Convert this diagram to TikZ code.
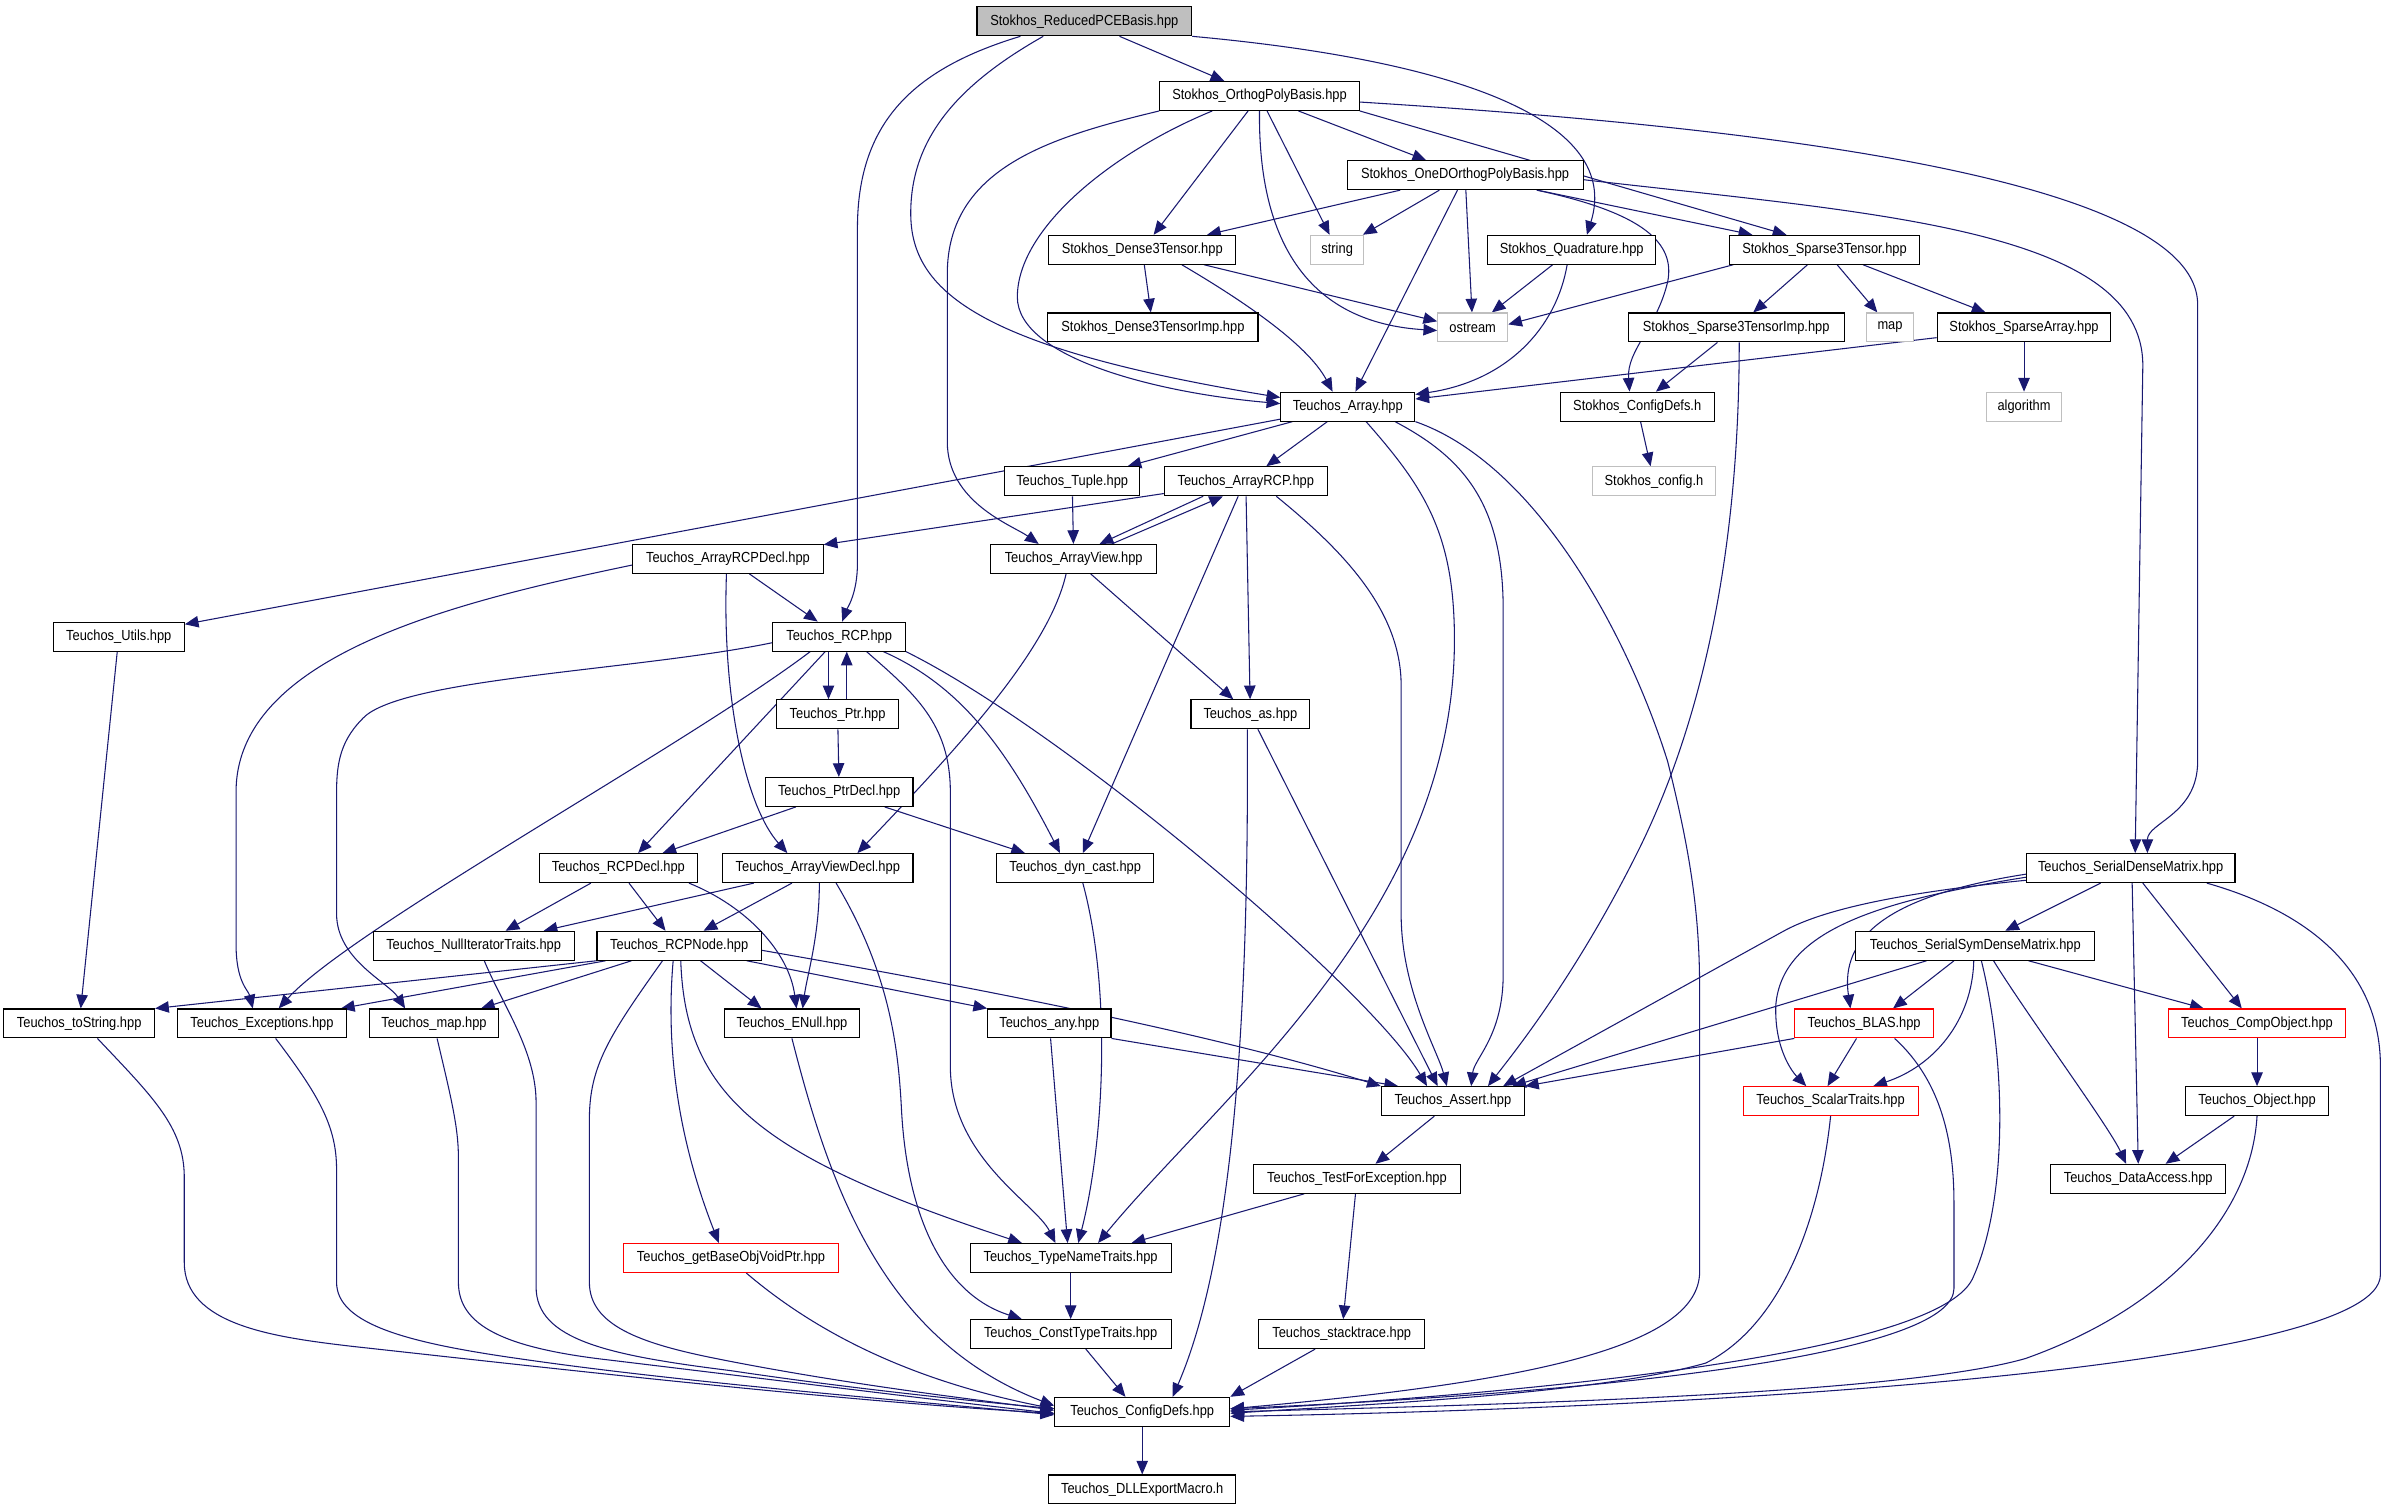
\documentclass[tikz,border=0pt]{standalone}
\usepackage{fontspec}
\setmainfont{Liberation Sans}[FakeStretch=0.88]
\usetikzlibrary{arrows.meta,backgrounds}
\definecolor{depcol}{RGB}{25,25,112}
\definecolor{grayb}{RGB}{191,191,191}
\tikzset{
  nb/.style={draw=black, line width=0.7pt, fill=white, minimum height=19pt, inner sep=0pt, font=\fontsize{9.6}{12}\selectfont},
  gb/.style={nb, draw=grayb},
  rb/.style={nb, draw=red},
  dep/.style={draw=depcol, line width=0.7pt, -{Triangle[length=9pt,width=7.5pt]}},
}
\begin{document}
\begin{tikzpicture}[x=1pt,y=-1pt]
\useasboundingbox (0,0) rectangle (1568,990.8);
% nodes
\node[nb,fill=grayb,minimum width=141pt] (RPCE) at (712,14) {Stokhos\_ReducedPCEBasis.hpp};
\node[nb,minimum width=131pt] (OPB) at (827,63) {Stokhos\_OrthogPolyBasis.hpp};
\node[nb,minimum width=155pt] (OneD) at (962,115) {Stokhos\_OneDOrthogPolyBasis.hpp};
\node[nb,minimum width=123pt] (D3T) at (750,164) {Stokhos\_Dense3Tensor.hpp};
\node[gb,minimum width=35pt] (str) at (878,164) {string};
\node[nb,minimum width=110pt] (Quad) at (1032,164) {Stokhos\_Quadrature.hpp};
\node[nb,minimum width=125pt] (S3T) at (1198,164) {Stokhos\_Sparse3Tensor.hpp};
\node[nb,minimum width=138pt] (D3TImp) at (757,215) {Stokhos\_Dense3TensorImp.hpp};
\node[gb,minimum width=46pt] (ostr) at (967,215) {ostream};
\node[nb,minimum width=142pt] (S3TImp) at (1140,215) {Stokhos\_Sparse3TensorImp.hpp};
\node[gb,minimum width=31pt] (smap) at (1241,215) {map};
\node[nb,minimum width=114pt] (SpA) at (1329,215) {Stokhos\_SparseArray.hpp};
\node[nb,minimum width=88pt] (Arr) at (885,267) {Teuchos\_Array.hpp};
\node[nb,minimum width=101pt] (SCDh) at (1075,267) {Stokhos\_ConfigDefs.h};
\node[gb,minimum width=49pt] (algo) at (1329,267) {algorithm};
\node[nb,minimum width=89pt] (Tup) at (704,316) {Teuchos\_Tuple.hpp};
\node[nb,minimum width=107pt] (ARCP) at (818,316) {Teuchos\_ArrayRCP.hpp};
\node[gb,minimum width=81pt] (scfg) at (1086,316) {Stokhos\_config.h};
\node[nb,minimum width=125pt] (ARCPD) at (478,367) {Teuchos\_ArrayRCPDecl.hpp};
\node[nb,minimum width=109pt] (AV) at (705,367) {Teuchos\_ArrayView.hpp};
\node[nb,minimum width=86pt] (Utl) at (78,418) {Teuchos\_Utils.hpp};
\node[nb,minimum width=87pt] (RCP) at (551,418) {Teuchos\_RCP.hpp};
\node[nb,minimum width=80pt] (Ptr) at (550,469) {Teuchos\_Ptr.hpp};
\node[nb,minimum width=78pt] (as) at (821,469) {Teuchos\_as.hpp};
\node[nb,minimum width=97pt] (PtrD) at (551,520) {Teuchos\_PtrDecl.hpp};
\node[nb,minimum width=104pt] (RCPD) at (406,570) {Teuchos\_RCPDecl.hpp};
\node[nb,minimum width=125pt] (AVD) at (537,570) {Teuchos\_ArrayViewDecl.hpp};
\node[nb,minimum width=103pt] (dync) at (706,570) {Teuchos\_dyn\_cast.hpp};
\node[nb,minimum width=137pt] (SDM) at (1399,570) {Teuchos\_SerialDenseMatrix.hpp};
\node[nb,minimum width=132pt] (NIT) at (311,621) {Teuchos\_NullIteratorTraits.hpp};
\node[nb,minimum width=108pt] (RCPN) at (446,621) {Teuchos\_RCPNode.hpp};
\node[nb,minimum width=157pt] (SSDM) at (1297,621) {Teuchos\_SerialSymDenseMatrix.hpp};
\node[nb,minimum width=99pt] (toS) at (52,672) {Teuchos\_toString.hpp};
\node[nb,minimum width=111pt] (Exc) at (172,672) {Teuchos\_Exceptions.hpp};
\node[nb,minimum width=85pt] (tmap) at (285,672) {Teuchos\_map.hpp};
\node[nb,minimum width=89pt] (ENull) at (520,672) {Teuchos\_ENull.hpp};
\node[nb,minimum width=81pt] (any) at (689,672) {Teuchos\_any.hpp};
\node[rb,minimum width=91pt] (BLAS) at (1224,672) {Teuchos\_BLAS.hpp};
\node[rb,minimum width=116pt] (CObj) at (1482,672) {Teuchos\_CompObject.hpp};
\node[nb,minimum width=94pt] (Asrt) at (954,723) {Teuchos\_Assert.hpp};
\node[rb,minimum width=115pt] (ScT) at (1202,723) {Teuchos\_ScalarTraits.hpp};
\node[nb,minimum width=94pt] (Obj) at (1482,723) {Teuchos\_Object.hpp};
\node[nb,minimum width=136pt] (TFE) at (891,774) {Teuchos\_TestForException.hpp};
\node[nb,minimum width=115pt] (DAcc) at (1404,774) {Teuchos\_DataAccess.hpp};
\node[rb,minimum width=141pt] (GBO) at (480,826) {Teuchos\_getBaseObjVoidPtr.hpp};
\node[nb,minimum width=132pt] (TNT) at (703,826) {Teuchos\_TypeNameTraits.hpp};
\node[nb,minimum width=132pt] (CTT) at (703,876) {Teuchos\_ConstTypeTraits.hpp};
\node[nb,minimum width=109pt] (stk) at (881,876) {Teuchos\_stacktrace.hpp};
\node[nb,minimum width=115pt] (CDh) at (750,927) {Teuchos\_ConfigDefs.hpp};
\node[nb,minimum width=123pt] (DLL) at (750,978) {Teuchos\_DLLExportMacro.h};
% edges
\begin{scope}[on background layer]
\draw[dep] (RPCE) -- (OPB);
\draw[dep] (RPCE.south east) .. controls (960,40) and (1065,80) .. ([xshift=10pt]Quad.north);
\draw[dep] ([xshift=-27pt]RPCE.south) .. controls (630,55) and (598,90) .. (598,140) .. controls (598,190) and (640,228) .. ([yshift=6pt]Arr.west);
\draw[dep] ([xshift=-42pt]RPCE.south) .. controls (600,45) and (563,80) .. (563,150) -- (563,370) .. controls (563,390) and (556,400) .. ([xshift=2pt]RCP.north);
% OPB
\draw[dep] (OPB) -- (OneD);
\draw[dep] (OPB) -- (D3T);
\draw[dep] (OPB) -- (str);
\draw[dep] (OPB.south) .. controls (826,160) and (860,212) .. ([yshift=-2pt]ostr.west);
\draw[dep] ([xshift=-31pt]OPB.south) .. controls (730,100) and (668,150) .. (668,195) .. controls (668,235) and (760,258) .. ([yshift=2pt]Arr.west);
\draw[dep] (OPB.south west) .. controls (690,90) and (622,110) .. (622,180) -- (622,290) .. controls (622,330) and (665,345) .. ([xshift=-23pt]AV.north);
\draw[dep] (OPB.south east) -- ([xshift=-25pt]S3T.north);
\draw[dep] ([yshift=-4pt]OPB.east) .. controls (1100,80) and (1443,110) .. (1443,200) -- (1443,500) .. controls (1443,535) and (1410,540) .. ([xshift=11pt]SDM.north);
% OneD
\draw[dep] (OneD) -- (D3T);
\draw[dep] (OneD) -- (str);
\draw[dep] (OneD) -- (Arr);
\draw[dep] (OneD) -- (ostr);
\draw[dep] (OneD) -- (S3T);
\draw[dep] ([xshift=47pt]OneD.south) .. controls (1080,140) and (1100,160) .. (1095,185) .. controls (1088,215) and (1068,230) .. ([xshift=-5pt]SCDh.north);
\draw[dep] ([yshift=-3pt]OneD.east) .. controls (1230,140) and (1407,150) .. (1407,240) -- ([xshift=3pt]SDM.north);
% D3T, Quad, S3T
\draw[dep] (D3T) -- (D3TImp);
\draw[dep] (D3T) -- ([yshift=4pt]ostr.west);
\draw[dep] ([xshift=26pt]D3T.south) .. controls (812,195) and (858,225) .. ([xshift=-10pt]Arr.north);
\draw[dep] (Quad) -- (ostr);
\draw[dep] ([xshift=-3pt]Quad.south) .. controls (1022,215) and (990,250) .. ([yshift=8pt]Arr.east);
\draw[dep] ([xshift=-60pt]S3T.south) -- ([yshift=2pt]ostr.east);
\draw[dep] (S3T) -- (S3TImp);
\draw[dep] (S3T) -- (smap);
\draw[dep] (S3T) -- (SpA);
\draw[dep] (S3TImp) -- (SCDh);
\draw[dep] ([xshift=2pt]S3TImp.south) .. controls (1142,370) and (1115,480) .. (1075,560) .. controls (1035,640) and (995,690) .. ([xshift=23pt]Asrt.north);
\draw[dep] (SpA) -- ([yshift=5pt]Arr.east);
\draw[dep] (SpA) -- (algo);
\draw[dep] (SCDh) -- (scfg);
% Array
\draw[dep] (Arr) -- (Utl);
\draw[dep] (Arr) -- (Tup);
\draw[dep] (Arr) -- (ARCP);
\draw[dep] ([xshift=12pt]Arr.south) .. controls (935,320) and (955,350) .. (955,420) .. controls (955,600) and (800,720) .. ([xshift=18pt]TNT.north);
\draw[dep] ([xshift=31pt]Arr.south) .. controls (960,300) and (987,330) .. (987,400) -- (987,640) .. controls (987,680) and (968,695) .. ([xshift=12pt]Asrt.north);
\draw[dep] (Arr.south east) .. controls (1010,305) and (1070,420) .. (1095,500) .. controls (1110,560) and (1116,600) .. (1116,650) -- (1116,835) .. controls (1116,885) and (1000,908) .. ([yshift=2pt]CDh.east);
% Tuple, ArrayRCP, ArrayView
\draw[dep] (Tup) -- (AV);
\draw[dep] (ARCP) -- (ARCPD);
\draw[dep] ([xshift=-28pt]ARCP.south) -- ([xshift=17pt]AV.north);
\draw[dep] ([xshift=25pt]AV.north) -- ([xshift=-15pt]ARCP.south);
\draw[dep] (ARCP) -- (as);
\draw[dep] ([xshift=-5pt]ARCP.south) -- ([xshift=5pt]dync.north);
\draw[dep] ([xshift=20pt]ARCP.south) .. controls (880,360) and (920,400) .. (920,450) -- (920,600) .. controls (920,650) and (944,690) .. ([xshift=-4pt]Asrt.north);
\draw[dep] (AV) -- (as);
\draw[dep] ([xshift=-5pt]AV.south) .. controls (688,430) and (620,500) .. ([xshift=26pt]AVD.north);
% ArrayRCPDecl
\draw[dep] (ARCPD) -- (RCP);
\draw[dep] ([yshift=-4pt]ARCPD.west) .. controls (300,395) and (155,430) .. (155,520) -- (155,620) .. controls (155,645) and (163,650) .. ([xshift=-6pt]Exc.north);
\draw[dep] ([xshift=-1pt]ARCPD.south) .. controls (474,460) and (490,530) .. ([xshift=-20pt]AVD.north);
\draw[dep] (Utl) -- (toS);
% RCP
\draw[dep] ([xshift=-7pt]RCP.south) -- ([xshift=-6pt]Ptr.north);
\draw[dep] ([xshift=6pt]Ptr.north) -- ([xshift=5pt]RCP.south);
\draw[dep] (RCP) -- ([xshift=13pt]RCPD.north);
\draw[dep] ([xshift=-19pt]RCP.south) .. controls (450,490) and (230,610) .. ([xshift=11pt]Exc.north);
\draw[dep] ([yshift=-4pt]RCP.west) .. controls (420,440) and (270,445) .. (240,470) .. controls (224,485) and (221,500) .. (221,520) -- (221,600) .. controls (221,630) and (255,645) .. ([xshift=-19pt]tmap.north);
\draw[dep] ([xshift=29pt]RCP.south) .. controls (630,450) and (660,490) .. ([xshift=-10pt]dync.north);
\draw[dep] ([xshift=18pt]RCP.south) .. controls (600,455) and (624,475) .. (624,520) -- (624,700) .. controls (624,760) and (680,790) .. ([xshift=-10pt]TNT.north);
\draw[dep] (RCP.south east) .. controls (700,480) and (900,650) .. ([xshift=-17pt]Asrt.north);
\draw[dep] (Ptr) -- (PtrD);
\draw[dep] (PtrD) -- ([xshift=29pt]RCPD.north);
\draw[dep] (PtrD) -- ([xshift=-33pt]dync.north);
\draw[dep] (as) -- ([xshift=-10pt]Asrt.north);
\draw[dep] ([xshift=-2pt]as.south) .. controls (820,650) and (812,820) .. ([xshift=20pt]CDh.north);
% RCPDecl, ArrayViewDecl
\draw[dep] ([xshift=-18pt]RCPD.south) -- ([xshift=21pt]NIT.north);
\draw[dep] ([xshift=7pt]RCPD.south) -- ([xshift=-9pt]RCPN.north);
\draw[dep] ([xshift=-6pt]RCPD.south east) .. controls (490,595) and (518,625) .. ([xshift=3pt]ENull.north);
\draw[dep] ([xshift=-42pt]AVD.south) -- ([xshift=46pt]NIT.north);
\draw[dep] ([xshift=-17pt]AVD.south) -- ([xshift=16pt]RCPN.north);
\draw[dep] ([xshift=1pt]AVD.south) .. controls (538,615) and (530,640) .. ([xshift=7pt]ENull.north);
\draw[dep] ([xshift=12pt]AVD.south) .. controls (585,640) and (590,690) .. (592,730) .. controls (596,800) and (620,850) .. ([xshift=-32pt]CTT.north);
\draw[dep] ([xshift=5pt]dync.south) .. controls (730,650) and (725,750) .. ([xshift=5pt]TNT.north);
\draw[dep] ([xshift=7pt]NIT.south) .. controls (330,660) and (352,690) .. (352,724) -- (352,845) .. controls (352,880) and (400,890) .. (480,900) .. controls (560,912) and (640,920) .. ([yshift=2pt]CDh.west);
% RCPNode
\draw[dep] (RCPN.south west) -- (toS.north east);
\draw[dep] ([xshift=6pt]RCPN.south west) -- ([xshift=-4pt]Exc.north east);
\draw[dep] ([xshift=23pt]RCPN.south west) -- ([xshift=-12pt]tmap.north east);
\draw[dep] ([xshift=14pt]RCPN.south) -- ([xshift=-20pt]ENull.north);
\draw[dep] ([xshift=-10pt]RCPN.south east) -- (any.north west);
\draw[dep] ([yshift=-3pt]RCPN.east) .. controls (650,650) and (800,680) .. (Asrt.north west);
\draw[dep] ([xshift=-4pt]RCPN.south) .. controls (436,700) and (450,760) .. ([xshift=-8pt]GBO.north);
\draw[dep] ([xshift=1pt]RCPN.south) .. controls (450,720) and (500,760) .. ([xshift=-32pt]TNT.north);
\draw[dep] ([xshift=-11pt]RCPN.south) .. controls (400,680) and (387,700) .. (387,735) -- (387,842) .. controls (387,870) and (420,882) .. (470,892) .. controls (560,910) and (650,920) .. ([yshift=1pt]CDh.west);
% left column to ConfigDefs
\draw[dep] ([xshift=12pt]toS.south) .. controls (100,720) and (121,740) .. (121,773) -- (121,829) .. controls (121,870) and (180,878) .. (231,884) .. controls (350,897) and (550,920) .. ([yshift=-1pt]CDh.west);
\draw[dep] ([xshift=9pt]Exc.south) .. controls (210,720) and (221,740) .. (221,768) -- (221,842) .. controls (221,870) and (270,882) .. (340,892) .. controls (450,908) and (600,920) .. ([yshift=-2pt]CDh.west);
\draw[dep] ([xshift=2pt]tmap.south) .. controls (296,720) and (301,740) .. (301,760) -- (301,842) .. controls (301,870) and (330,885) .. (400,893) .. controls (500,905) and (620,920) .. ([yshift=-1pt]CDh.west);
\draw[dep] (ENull.south) .. controls (545,780) and (580,880) .. ([yshift=4pt]CDh.west);
\draw[dep] (any) -- ([xshift=-2pt]TNT.north);
\draw[dep] (any.south east) -- ([xshift=-36pt]Asrt.north);
\draw[dep] ([xshift=10pt]GBO.south) .. controls (530,870) and (590,905) .. ([yshift=2pt]CDh.west);
\draw[dep] (TNT) -- (CTT);
\draw[dep] ([xshift=10pt]CTT.south) -- ([xshift=-11pt]CDh.north);
\draw[dep] (Asrt) -- (TFE);
\draw[dep] (TFE) -- ([xshift=40pt]TNT.north);
\draw[dep] (TFE) -- (stk);
\draw[dep] (stk) -- (CDh.north east);
\draw[dep] (CDh) -- (DLL);
% SerialDenseMatrix
\draw[dep] (SDM) -- (SSDM);
\draw[dep] ([yshift=-4pt]SDM.west) .. controls (1240,588) and (1208,615) .. ([xshift=-9pt]BLAS.north);
\draw[dep] ([yshift=-6pt]SDM.west) .. controls (1230,592) and (1170,612) .. (1166,660) .. controls (1165,690) and (1178,705) .. ([xshift=-16pt]ScT.north);
\draw[dep] ([yshift=-8pt]SDM.west) .. controls (1260,585) and (1200,595) .. (1170,612) -- ([xshift=33pt]Asrt.north);
\draw[dep] ([xshift=8pt]SDM.south) -- ([xshift=-10pt]CObj.north);
\draw[dep] ([xshift=1pt]SDM.south) -- (DAcc.north);
\draw[dep] ([xshift=50pt]SDM.south) .. controls (1520,600) and (1563,640) .. (1563,700) -- (1563,837) .. controls (1563,900) and (1100,925) .. ([yshift=-3pt]CDh.east);
% SerialSymDenseMatrix
\draw[dep] ([xshift=-32pt]SSDM.south) -- ([xshift=39pt]Asrt.north);
\draw[dep] ([xshift=-14pt]SSDM.south) -- ([xshift=19pt]BLAS.north);
\draw[dep] ([xshift=-1pt]SSDM.south) .. controls (1295,670) and (1270,700) .. ([xshift=28pt]ScT.north);
\draw[dep] ([xshift=35pt]SSDM.south) -- ([xshift=-35pt]CObj.north);
\draw[dep] ([xshift=12pt]SSDM.south) .. controls (1330,665) and (1385,740) .. ([xshift=-8pt]DAcc.north);
\draw[dep] ([xshift=4pt]SSDM.south) .. controls (1318,700) and (1318,790) .. (1295,840) .. controls (1270,890) and (1000,915) .. ([yshift=1pt]CDh.east);
% BLAS and others
\draw[dep] ([xshift=-5pt]BLAS.south) -- ([xshift=-2pt]ScT.north);
\draw[dep] (BLAS.south west) -- (Asrt.north east);
\draw[dep] ([xshift=20pt]BLAS.south) .. controls (1275,710) and (1283,750) .. (1283,790) -- (1283,846) .. controls (1283,885) and (1100,912) .. ([yshift=2pt]CDh.east);
\draw[dep] (CObj) -- (Obj);
\draw[dep] (ScT.south) .. controls (1195,800) and (1170,870) .. (1120,895) .. controls (1050,915) and (900,922) .. ([yshift=-1pt]CDh.east);
\draw[dep] ([xshift=-15pt]Obj.south) -- ([xshift=18pt]DAcc.north);
\draw[dep] (Obj.south) .. controls (1478,800) and (1420,860) .. (1330,892) .. controls (1250,915) and (1000,922) .. (CDh.east);
\end{scope}
\end{tikzpicture}
\end{document}
